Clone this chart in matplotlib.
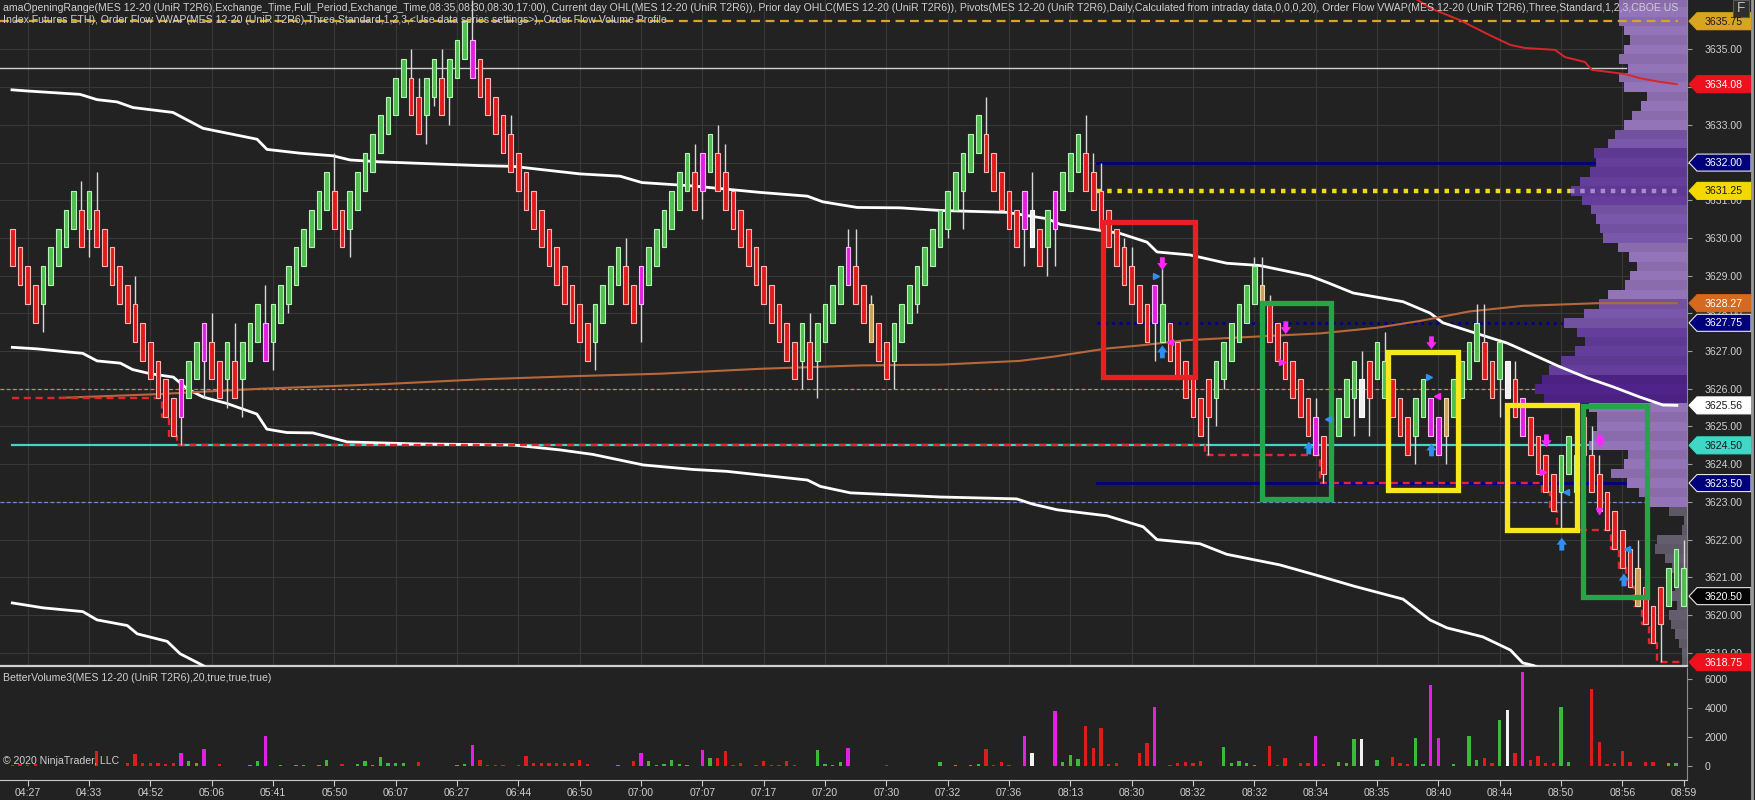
import numpy as np
import matplotlib
matplotlib.use("Agg")
import matplotlib.pyplot as plt
from matplotlib import font_manager
from matplotlib.patches import Rectangle, Polygon

# ---------------- data ----------------
# closes of the UniRenko bars, 10 per row; codes: R/G plain down/up,
# M/m magenta up/down, w white down, T/t tan up/down
closes = [
    3629.25, 3628.75, 3628.25, 3627.75, 3629.25, 3629.75, 3630.25, 3630.75, 3631.25, 3629.75,
    3631.25, 3629.75, 3629.25, 3628.75, 3628.25, 3627.75, 3627.25, 3626.75, 3626.25, 3625.75,
    3625.25, 3624.75, 3626.25, 3626.75, 3627.25, 3627.75, 3626.25, 3625.75, 3627.25, 3625.75,
    3627.25, 3627.75, 3628.25, 3626.75, 3628.25, 3628.75, 3629.25, 3629.75, 3630.25, 3630.75,
    3631.25, 3631.75, 3630.25, 3629.75, 3631.25, 3631.75, 3632.25, 3632.75, 3633.25, 3633.75,
    3634.25, 3634.75, 3633.25, 3632.75, 3634.25, 3634.75, 3633.25, 3634.75, 3635.25, 3635.75,
    3634.25, 3633.75, 3633.25, 3632.75, 3632.25, 3631.75, 3631.25, 3630.75, 3630.25, 3629.75,
    3629.25, 3628.75, 3628.25, 3627.75, 3627.25, 3626.75, 3628.25, 3628.75, 3629.25, 3629.75,
    3628.25, 3627.75, 3629.25, 3629.75, 3630.25, 3630.75, 3631.25, 3631.75, 3632.25, 3630.75,
    3632.25, 3632.75, 3631.25, 3630.75, 3630.25, 3629.75, 3629.25, 3628.75, 3628.25, 3627.75,
    3627.25, 3626.75, 3626.25, 3627.75, 3626.25, 3627.75, 3628.25, 3628.75, 3629.25, 3629.75,
    3628.25, 3627.75, 3627.25, 3626.75, 3626.25, 3627.75, 3628.25, 3628.75, 3629.25, 3629.75,
    3630.25, 3630.75, 3631.25, 3631.75, 3632.25, 3632.75, 3633.25, 3631.75, 3631.25, 3630.75,
    3630.25, 3629.75, 3631.25, 3629.75, 3629.25, 3630.75, 3631.25, 3631.75, 3632.25, 3632.75,
    3631.25, 3630.75, 3630.25, 3629.75, 3629.25, 3628.75, 3628.25, 3627.75, 3627.25, 3628.75,
    3628.25, 3626.75, 3626.25, 3625.75, 3625.25, 3624.75, 3625.25, 3626.75, 3627.25, 3627.75,
    3628.25, 3628.75, 3629.25, 3627.75, 3627.25, 3626.75, 3626.25, 3625.75, 3625.25, 3624.75,
    3624.25, 3623.75, 3624.25, 3625.75, 3626.25, 3626.75, 3625.25, 3625.75, 3627.25, 3626.75,
    3625.25, 3624.75, 3624.25, 3625.75, 3626.25, 3624.75, 3624.25, 3625.75, 3626.25, 3626.75,
    3627.25, 3627.75, 3626.25, 3625.75, 3627.25, 3625.75, 3625.25, 3624.75, 3624.25, 3623.75,
    3623.25, 3622.75, 3624.25, 3624.75, 3624.25, 3624.25, 3623.25, 3622.75, 3622.25, 3621.75,
    3621.25, 3620.75, 3620.25, 3619.75, 3619.25, 3619.75, 3621.25, 3621.75, 3621.25,
]
codes = ("RRRRGGGGGR" "GRRRRRRRRR" "RRMGGMRRGR" "GGGmGGGGGG" "GGRRGGGGGG"
         "GGRRGGRGGG" "mRRRRRRRRR" "RRRRRRGGGG" "RRMGGGGGGR" "MGRRRRRRRR"
         "RRRGRGGGGM" "RRtRRGGGGG" "GGGGGGGRRR" "RRMwRGMGGG" "RRRRRRRRRM"
         "GRRRRRRGGG" "GGGtRRRRRR" "mRRGGGwRGG" "RRRGGmmTGG" "GGRRGwRmRR"
         "RRGGGRRRRR" "RRtRRRGGG")
wick_hi = {9: 3631.5, 11: 3631.75, 16: 3629.0, 26: 3628.0, 29: 3627.75, 33: 3628.75,
           42: 3632.25, 52: 3635.0, 53: 3634.25, 56: 3635.0, 60: 3636.3, 65: 3633.25,
           80: 3630.0, 89: 3632.5, 92: 3633.0, 93: 3632.5, 104: 3628.0, 109: 3630.25,
           110: 3630.25, 112: 3628.5, 127: 3633.75, 133: 3631.75, 140: 3633.25, 141: 3632.25,
           142: 3632.0, 144: 3630.25, 145: 3630.0, 146: 3629.75, 150: 3629.25, 162: 3629.5,
           163: 3629.5, 164: 3628.5, 170: 3625.75, 176: 3627.0, 179: 3627.5, 191: 3628.25,
           192: 3628.25, 196: 3626.75, 206: 3625.0, 207: 3624.25, 212: 3622.0, 218: 3622.0}
wick_lo = {4: 3627.5, 10: 3629.5, 22: 3624.5, 25: 3625.75, 28: 3625.5, 30: 3625.25,
           34: 3626.5, 36: 3628.0, 44: 3629.5, 54: 3632.5, 55: 3633.5, 57: 3633.0,
           76: 3626.5, 82: 3627.25, 90: 3630.5, 103: 3626.0, 105: 3625.75, 115: 3626.0,
           118: 3628.0, 122: 3630.0, 124: 3630.25, 132: 3629.25, 135: 3629.0, 136: 3629.25,
           149: 3626.75, 156: 3624.25, 157: 3625.0, 158: 3626.0, 171: 3623.5, 175: 3624.75,
           177: 3624.75, 183: 3624.0, 187: 3624.0, 194: 3625.25, 202: 3622.25, 215: 3618.75}
volumes = [
    100, 150, 100, 150, 0, 0, 0, 0, 0, 0,
    0, 1030, 0, 0, 0, 190, 830, 200, 200, 200,
    150, 200, 920, 370, 230, 1200, 0, 150, 0, 0,
    0, 100, 370, 2070, 0, 100, 0, 100, 100, 0,
    100, 400, 0, 150, 0, 150, 340, 100, 640, 190,
    190, 190, 0, 300, 0, 0, 0, 0, 100, 150,
    1450, 400, 100, 100, 100, 0, 100, 710, 200, 200,
    200, 200, 200, 200, 400, 150, 0, 0, 0, 100,
    0, 370, 920, 370, 100, 150, 400, 150, 100, 0,
    1100, 575, 575, 1060, 100, 230, 0, 100, 340, 100,
    100, 340, 100, 0, 0, 1100, 130, 100, 280, 1240,
    0, 0, 0, 0, 50, 0, 0, 0, 0, 0,
    0, 250, 0, 100, 0, 100, 150, 1200, 100, 250,
    100, 0, 2070, 870, 0, 0, 3810, 300, 750, 480,
    2760, 1270, 2620, 130, 230, 0, 0, 920, 1610, 4040,
    0, 100, 190, 280, 230, 340, 0, 0, 1290, 190,
    370, 190, 100, 0, 1360, 100, 530, 0, 190, 230,
    2050, 150, 0, 300, 190, 1860, 1860, 0, 400, 0,
    640, 230, 150, 1930, 150, 5590, 1930, 0, 150, 0,
    2070, 400, 540, 230, 3170, 3860, 870, 6460, 400, 690,
    230, 230, 4040, 280, 0, 0, 5310, 1680, 150, 190,
    1060, 280, 0, 280, 300, 0, 190, 190, 0,
]
time_labels = ['04:27', '04:33', '04:52', '05:06', '05:41', '05:50', '06:07', '06:27',
               '06:44', '06:50', '07:00', '07:07', '07:17', '07:20', '07:30', '07:32',
               '07:36', '08:13', '08:30', '08:32', '08:32', '08:34', '08:35', '08:40',
               '08:44', '08:50', '08:56', '08:59']

# VWAP and bands (bar position, price)
vw_up_x = [-0.04, 1.92, 8.83, 11.05, 13.66, 15.74, 20.96, 24.87, 31.92, 33.22, 37.5, 41.83,
           44.05, 47.96, 61.0, 65.3, 74.05, 79.26, 82.13, 88.8, 97.5, 103.7, 105.7, 110.2,
           115.8, 121.0, 129.7, 135.0, 136.7, 141.0, 144.5, 148.0, 149.3, 153.6, 158.4, 162.7,
           169.3, 171.5, 174.9, 181.4, 184.9, 186.6, 195.0, 197.0, 201.9, 205.4, 208.8, 212.3,
           215.3, 217.1]
vw_up_p = [3633.93, 3633.90, 3633.81, 3633.67, 3633.61, 3633.46, 3633.33, 3632.91, 3632.62,
           3632.35, 3632.25, 3632.18, 3632.07, 3632.02, 3631.92, 3631.90, 3631.70, 3631.64,
           3631.47, 3631.38, 3631.21, 3631.11, 3630.96, 3630.81, 3630.80, 3630.73, 3630.68,
           3630.51, 3630.36, 3630.23, 3630.12, 3629.89, 3629.63, 3629.55, 3629.33, 3629.27,
           3628.99, 3628.82, 3628.54, 3628.31, 3628.01, 3627.75, 3627.21, 3627.03, 3626.58,
           3626.29, 3626.05, 3625.78, 3625.57, 3625.56]
vw_mid_x = [0, 3.2, 7.1, 9.2, 11.05, 14.1, 15.7, 18.0, 21.0, 22.8, 24.9, 28.0, 31.9, 33.2,
            35.8, 39.2, 43.7, 52.3, 65.3, 71.4, 75.7, 82.3, 88.8, 93.2, 103.7, 105.4, 109.3,
            121.0, 131.0, 133.1, 136.3, 142.8, 147.5, 149.3, 154.9, 158.4, 165.3, 170.2,
            174.9, 181.4, 184.9, 187.1, 191.8, 195.4, 197.0, 198.4, 199.9]
vw_mid_p = [3627.10, 3627.06, 3626.98, 3626.94, 3626.74, 3626.68, 3626.51, 3626.40, 3626.31,
            3626.00, 3625.78, 3625.61, 3625.33, 3624.93, 3624.84, 3624.83, 3624.59, 3624.54,
            3624.51, 3624.38, 3624.26, 3623.98, 3623.86, 3623.81, 3623.58, 3623.41, 3623.24,
            3623.13, 3623.08, 3622.94, 3622.79, 3622.63, 3622.34, 3622.00, 3621.89, 3621.61,
            3621.33, 3621.05, 3620.77, 3620.42, 3619.87, 3619.66, 3619.42, 3619.07, 3618.73,
            3618.66, 3618.54]
vw_low_x = [0, 4.0, 9.2, 11.05, 15.0, 16.3, 20.2, 21.9, 24.5, 26.4]
vw_low_p = [3620.32, 3620.19, 3620.09, 3619.87, 3619.72, 3619.50, 3619.30, 3618.97, 3618.70, 3618.49]
vw_red_x = [182.3, 184.9, 188.8, 192.7, 195.4, 197.3, 201.2, 202.5, 205.1, 206.0, 208.4,
            210.3, 212.3, 214.9, 217.1]
vw_red_p = [3636.45, 3636.10, 3635.78, 3635.38, 3635.12, 3635.04, 3634.99, 3634.80, 3634.67,
            3634.46, 3634.40, 3634.35, 3634.24, 3634.14, 3634.08]
vw_brown_x = [6.2, 19.3, 24.5, 32.3, 37.5, 48.0, 61.0, 74.1, 84.5, 97.5, 110.6, 121.0,
              131.4, 135.7, 142.8, 147.1, 153.2, 161.8, 170.6, 178.0, 183.6, 190.0, 197.0,
              206.7, 217.1]
vw_brown_p = [3625.76, 3625.86, 3625.92, 3626.00, 3626.04, 3626.12, 3626.25, 3626.34,
              3626.40, 3626.53, 3626.62, 3626.64, 3626.74, 3626.85, 3627.07, 3627.15,
              3627.29, 3627.38, 3627.47, 3627.62, 3627.80, 3628.05, 3628.20, 3628.27, 3628.27]

# horizontal levels
prior_high = 3635.75
or_line = 3634.5
or_dash = 3626.0
prior_low = 3624.5
blue_dash = 3623.0
day_low_start = 3625.75
pivot_levels = [3632.0, 3627.75, 3623.5]
pivot_end = [206.3, 202.1, 210.3]
pivot_start = 141.5
poc_level = 3631.25

# volume profile rows, top (3636.25) to bottom (3618.75)
profile_top = 3636.25
profile_vol = [68, 68, 68, 63, 57, 63, 68, 59, 68, 63,
               40, 46, 55, 63, 72, 79, 93, 91, 97, 107,
               116, 105, 96, 91, 87, 84, 69, 58, 50, 57,
               62, 79, 88, 103, 123, 110, 102, 112, 126, 138,
               145, 152, 143, 98, 90, 90, 95, 98, 59, 63,
               76, 60, 48, 42, 18, 3, 5, 30, 32, 22,
               15, 8, 12, 15, 10, 18, 16, 12, 8, 5, 5]
profile_shade = ("LLLLLLLLLLLLLL" "MM" "DDDDDD" "MMMM" "LLLLLL" "MMM" "DDDDD" "PPP"
                 "LLLLLLLLLLL" "GGGGGGGGGGGGGGGGG")

# drawn boxes (bar from, bar to, top price, bottom price)
box_x0 = [142.3, 163.0, 179.4, 194.9, 204.9]
box_x1 = [154.3, 172.0, 188.6, 204.1, 213.2]
box_top = [3630.42, 3628.28, 3626.98, 3625.57, 3625.54]
box_bot = [3626.31, 3623.08, 3623.32, 3622.25, 3620.48]
box_col = ['#ea1f25', '#22a648', '#f7e81c', '#f7e81c', '#22a648']

# signal arrows and small triangles
arrow_bar = [150.0, 150.0, 166.1, 169.1, 185.1, 185.1, 200.1, 202.1, 207.1, 210.2]
arrow_tip = [3629.15, 3627.15, 3627.45, 3624.6, 3627.05, 3624.55, 3624.45, 3622.05, 3624.45, 3621.1]
arrow_dir = ['d', 'u', 'd', 'u', 'd', 'u', 'd', 'u', 'd', 'u']
tri_bar = [149.2, 151.0, 165.6, 171.6, 184.8, 185.8, 199.7, 202.6, 206.9, 210.6]
tri_price = [3629.0, 3627.25, 3626.7, 3625.2, 3626.3, 3625.8, 3623.8, 3623.25, 3622.75, 3621.75]
tri_mark = ['>', '<', '>', '<', '>', '<', '>', '<', 'v', '<']
tri_col = ['b', 'm', 'm', 'b', 'b', 'm', 'm', 'b', 'm', 'b']

# price tags on the axis
tag_price = [3635.75, 3634.08, 3632.00, 3631.25, 3628.27, 3627.75, 3625.56, 3624.50,
             3623.50, 3620.50, 3618.75]
tag_bg = ['#d9a521', '#ec111c', '#00007c', '#f4d800', '#d5691f', '#00007c', '#ffffff',
          '#3fd8c6', '#00007c', '#050505', '#ec111c']
tag_fg = ['#1a1a1a', 'white', 'white', '#1a1a1a', 'white', 'white', '#1a1a1a', '#1a1a1a',
          'white', 'white', 'white']

header1 = ("amaOpeningRange(MES 12-20 (UniR T2R6),Exchange_Time,Full_Period,Exchange_Time,"
           "08:35,08:30,08:30,17:00), Current day OHL(MES 12-20 (UniR T2R6)), Prior day "
           "OHLC(MES 12-20 (UniR T2R6)), Pivots(MES 12-20 (UniR T2R6),Daily,Calculated from "
           "intraday data,0,0,0,20), Order Flow VWAP(MES 12-20 (UniR T2R6),Three,Standard,"
           "1,2,3,CBOE US")
header2 = ("Index Futures ETH), Order Flow VWAP(MES 12-20 (UniR T2R6),Three,Standard,1,2,3,"
           "<Use data series settings>), Order Flow Volume Profile")
vol_title = "BetterVolume3(MES 12-20 (UniR T2R6),20,true,true,true)"

# ---------------- styling ----------------
BG = '#222222'
GRID = '#383838'
TXT = '#cfcfcf'
avail = {f.name for f in font_manager.fontManager.ttflist}
FONT = 'Liberation Sans Narrow' if 'Liberation Sans Narrow' in avail else 'Liberation Sans'
plt.rcParams['font.family'] = [FONT, 'DejaVu Sans']

FILL = {'R': '#e01b1b', 'G': '#4fbd4f', 'M': '#e21fe2', 'm': '#e21fe2',
        'w': '#f0f0f0', 'T': '#c9a15c', 't': '#c9a15c'}
EDGE = {'R': '#ffb4b4', 'G': '#b4f4b4', 'M': '#ffb4ff', 'm': '#ffb4ff',
        'w': '#ffffff', 'T': '#f2d7a8', 't': '#f2d7a8'}
VCOL = {'R': '#dd1c1c', 'G': '#3cb83c', 'M': '#e21fe2', 'm': '#e21fe2',
        'w': '#f2f2f2', 'T': '#dd1c1c', 't': '#dd1c1c'}
SHADE = {'L': '#8a6cad', 'M': '#7151a0', 'D': '#5e3991', 'P': '#4b2182', 'G': '#5d5766'}
ARROWC = {'m': '#ff26ff', 'b': '#2f8ff2'}

W, H = 1755, 800
fig = plt.figure(figsize=(W / 100, H / 100), dpi=100, facecolor=BG)
AXW = 1687 / W
ax = fig.add_axes([0, (H - 666) / H, AXW, 666 / H])
axv = fig.add_axes([0, 20 / H, AXW, 112 / H])
ov = fig.add_axes([0, 0, 1, 1])
ov.set_xlim(0, W)
ov.set_ylim(H, 0)
ov.axis('off')
ov.set_zorder(10)

xmin, xmax = -1.604, 218.43
for a in (ax, axv):
    a.set_facecolor(BG)
    a.set_xlim(xmin, xmax)
    a.spines['top'].set_visible(False)
    a.spines['left'].set_visible(False)
    a.spines['right'].set_color('#8c8c8c')
ax.set_ylim(3618.647, 3636.313)
axv.set_ylim(-966, 6759)
ax.spines['bottom'].set_color('#d0d0d0')
ax.spines['bottom'].set_linewidth(1.6)
axv.spines['bottom'].set_color('#c8c8c8')

n = len(closes)
idx = np.arange(n)
c = np.array(closes)
up = np.array([k in 'GMWT' for k in codes])
opens = np.where(up, c - 1.0, c + 1.0)
highs = np.maximum(opens, c)
lows = np.minimum(opens, c)
for i, v in wick_hi.items():
    highs[i] = v
for i, v in wick_lo.items():
    lows[i] = v

tick_bars = np.arange(2, n, 8)

# fonts sized to the reference widths
r = fig.canvas.get_renderer()


def fit_size(txt, width_px, base=10.0):
    t = fig.text(0, 0, txt, fontsize=base)
    w = t.get_window_extent(renderer=r).width
    t.remove()
    return base * width_px / w


tick_fs = fit_size('3635.00', 38)
hdr_fs = fit_size(header1, 1678)

# grid and axes ticks
ax.set_axisbelow(True)
ax.set_xticks(tick_bars)
ax.set_yticks(np.arange(3619, 3636))
ax.yaxis.tick_right()
ax.yaxis.set_major_formatter(matplotlib.ticker.FormatStrFormatter('%.2f'))
ax.tick_params(axis='x', length=0, labelbottom=False)
ax.tick_params(axis='y', colors='#9a9a9a', labelcolor=TXT, labelsize=tick_fs, length=3.6, pad=9)
ax.grid(True, color=GRID, lw=0.8)

axv.set_xticks(tick_bars, labels=time_labels)
axv.set_yticks([0, 2000, 4000, 6000])
axv.yaxis.tick_right()
axv.tick_params(axis='x', colors='#c8c8c8', labelcolor=TXT, labelsize=tick_fs, length=4.3, pad=1.5)
axv.tick_params(axis='y', colors='#9a9a9a', labelcolor=TXT, labelsize=tick_fs, length=3.6, pad=9)

# horizontal levels
ax.axhline(or_line, xmax=(210.5 - xmin) / (xmax - xmin), color='#cfcfcf', lw=1.0, zorder=1)
ax.axhline(or_dash, color='#d9892e', lw=0.9, ls=(0, (3, 2)), zorder=1)
ax.axhline(blue_dash, color='#6c8fd0', lw=0.9, ls=(0, (3, 2)), zorder=1)
ax.plot([0, xmax], [prior_low, prior_low], color='#3fd8c6', lw=1.6, zorder=1.2)
for lv, xe, ls in zip(pivot_levels, pivot_end, ['-', ':', '-']):
    ax.plot([pivot_start, xe], [lv, lv], color='#00008a', lw=2.0, ls=ls, zorder=1.3)
ax.plot([pivot_start, 203.2], [poc_level, poc_level], color='#f4d81c', lw=3.2,
        ls=(0, (1, 1.3)), zorder=1.4)

# volume profile drawn from the right edge
px_per_bar = 1687 / (xmax - xmin)
prof_p = profile_top - 0.25 * np.arange(len(profile_vol))
prof_w = np.array(profile_vol) / px_per_bar
prof_c = []
for i, k in enumerate(profile_shade):
    base = np.array(matplotlib.colors.to_rgb(SHADE[k]))
    prof_c.append(np.clip(base * (1.07 if i % 2 else 1.0), 0, 1))
ax.barh(prof_p, -prof_w, left=xmax, height=0.25, color=prof_c, linewidth=0, zorder=2)
ax.plot([203.2, 217.5], [poc_level, poc_level], color='#a98ad0', lw=3.2,
        ls=(0, (1, 1.3)), zorder=2.1)
ax.plot([xmin, 217.3], [prior_high, prior_high], color='#d9a521', lw=1.6,
        ls=(0, (4, 2.5)), zorder=2.2)

# VWAP lines
ax.plot(vw_up_x, vw_up_p, color='white', lw=2.0, zorder=3)
ax.plot(vw_mid_x, vw_mid_p, color='white', lw=2.0, zorder=3)
ax.plot(vw_low_x, vw_low_p, color='white', lw=2.0, zorder=3)
ax.plot(vw_red_x, vw_red_p, color='#d9262a', lw=1.4, zorder=3)
ax.plot(vw_brown_x, vw_brown_p, color='#b8673a', lw=1.5, zorder=3)

# current day low, stepping down with the lows
runmin = np.minimum.accumulate(np.minimum(lows, day_low_start))
ax.step(idx, runmin, where='mid', color='#e3262b', lw=1.7, ls=(0, (3, 2)), zorder=3.5)

# candles
ax.vlines(idx, lows, highs, color='#d8d8d8', lw=1.0, zorder=4)
ax.bar(idx, c - opens, bottom=opens, width=0.62,
       color=[FILL[k] for k in codes], edgecolor=[EDGE[k] for k in codes],
       linewidth=0.8, zorder=5)

# drawn boxes
for x0, x1, pt, pb, col in zip(box_x0, box_x1, box_top, box_bot, box_col):
    ax.add_patch(Rectangle((x0, pb), x1 - x0, pt - pb, fill=False, edgecolor=col,
                           lw=3.8, zorder=6))

# signal arrows
for bx, tip, d in zip(arrow_bar, arrow_tip, arrow_dir):
    tail = tip + 0.34 if d == 'd' else tip - 0.34
    col = ARROWC['m'] if d == 'd' else ARROWC['b']
    ax.annotate('', xy=(bx, tip), xytext=(bx, tail),
                arrowprops=dict(arrowstyle='simple,head_length=0.5,head_width=0.75,tail_width=0.35',
                                color=col, lw=0, shrinkA=0, shrinkB=0), zorder=7)
for bx, p, mk, cc in zip(tri_bar, tri_price, tri_mark, tri_col):
    ax.plot(bx, p, marker=mk, ms=5, color=ARROWC[cc], ls='none', zorder=7)

# volume bars
axv.bar(idx, volumes, width=0.42, color=[VCOL[k] for k in codes], linewidth=0, zorder=3)

# texts
ov.text(3, 8, header1, fontsize=hdr_fs, color=TXT, va='center', ha='left')
ov.text(3, 20, header2, fontsize=hdr_fs, color=TXT, va='center', ha='left')
ov.text(3, 678, vol_title, fontsize=hdr_fs, color=TXT, va='center', ha='left')
ov.text(3, 761, '\u00a9 2020 NinjaTrader, LLC', fontsize=hdr_fs, color=TXT, va='center', ha='left')

# price tags
for p, bg, fg in zip(tag_price, tag_bg, tag_fg):
    y = H - ax.transData.transform((0, p))[1]
    edge = '#e6e6e6' if bg in ('#00007c', '#050505') else bg
    ov.add_patch(Polygon([(1689, y), (1697, y - 8.5), (1751, y - 8.5), (1751, y + 8.5),
                          (1697, y + 8.5)], closed=True, facecolor=bg, edgecolor=edge, lw=0.8))
    ov.text(1724, y + 0.5, f'{p:.2f}', fontsize=tick_fs, color=fg, ha='center', va='center')

# window edge and the F button
ov.plot([1752, 1752], [0, H], color='#9a9a9a', lw=2)
ov.add_patch(Rectangle((1733, 0), 16, 17, facecolor='#2e2e2e', edgecolor='#5a5a5a', lw=0.8))
ov.text(1741, 8.5, 'F', fontsize=tick_fs * 1.3, color='#bdbdbd', ha='center', va='center')

fig.savefig('out.png', dpi=100, facecolor=BG)
